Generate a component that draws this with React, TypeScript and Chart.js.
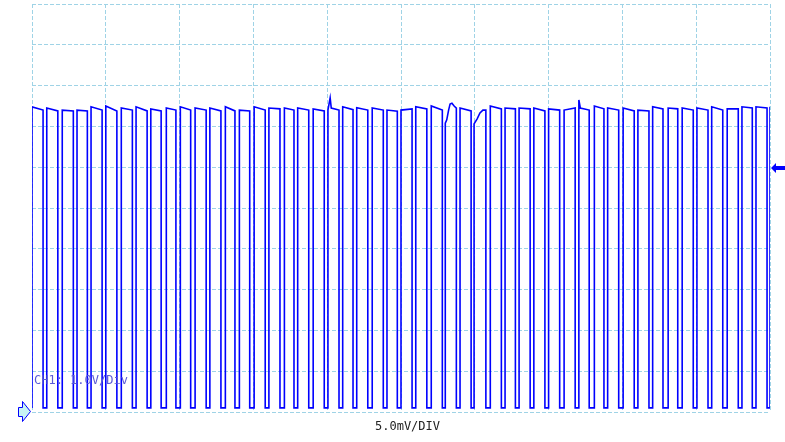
import React, { useEffect, useRef } from "react";
import { Chart, registerables } from "chart.js";

Chart.register(...registerables);

// Axis: 10 horizontal divisions x 10 vertical divisions
const X_MIN = 0;
const X_MAX = 10;
const Y_MIN = 0;
const Y_MAX = 10;

// Low level of the square wave (divisions)
const LOW_LEVEL = 0.1;

// Rising edge times of each pulse (divisions)
const RISES = [
  0.0, 0.2, 0.41, 0.61, 0.8, 1.0, 1.21, 1.41, 1.61, 1.82,
  2.01, 2.21, 2.41, 2.62, 2.81, 3.01, 3.21, 3.42, 3.6, 3.81,
  4.01, 4.21, 4.4, 4.61, 4.81, 5.0, 5.2, 5.41, 5.6, 5.8,
  5.99, 6.21, 6.41, 6.6, 6.8, 7.0, 7.21, 7.41, 7.62, 7.8,
  8.01, 8.21, 8.41, 8.62, 8.81, 9.01, 9.21, 9.42, 9.62, 9.81,
];

// Falling edge times of each pulse (divisions)
const FALLS = [
  0.15, 0.35, 0.56, 0.75, 0.95, 1.15, 1.36, 1.56, 1.75, 1.95,
  2.15, 2.36, 2.56, 2.75, 2.95, 3.16, 3.36, 3.55, 3.75, 3.96,
  4.16, 4.35, 4.55, 4.76, 4.95, 5.15, 5.35, 5.56, 5.75, 5.95,
  6.15, 6.36, 6.55, 6.75, 6.95, 7.15, 7.36, 7.55, 7.75, 7.95,
  8.16, 8.36, 8.55, 8.75, 8.96, 9.16, 9.36, 9.57, 9.76, 9.96,
];

// High level at the start of each pulse (divisions)
const TOP_START = [
  7.48, 7.45, 7.4, 7.4, 7.48, 7.5, 7.45, 7.48, 7.43, 7.45,
  7.48, 7.45, 7.45, 7.48, 7.4, 7.48, 7.45, 7.45, 7.45, 7.43,
  7.4, 7.48, 7.46, 7.45, 7.4, 7.4, 7.48, 7.5, 7.08, 7.45,
  7.06, 7.5, 7.45, 7.45, 7.45, 7.43, 7.4, 7.65, 7.5, 7.45,
  7.45, 7.4, 7.48, 7.45, 7.45, 7.45, 7.48, 7.43, 7.48, 7.48,
];

// High level at the end of each pulse (divisions)
const TOP_END = [
  7.4, 7.38, 7.38, 7.38, 7.4, 7.38, 7.4, 7.38, 7.38, 7.4,
  7.4, 7.4, 7.38, 7.38, 7.38, 7.4, 7.43, 7.4, 7.4, 7.38,
  7.4, 7.41, 7.4, 7.4, 7.37, 7.43, 7.43, 7.4, 7.45, 7.38,
  7.4, 7.43, 7.43, 7.43, 7.38, 7.4, 7.45, 7.4, 7.43, 7.4,
  7.38, 7.38, 7.43, 7.43, 7.4, 7.4, 7.4, 7.43, 7.45, 7.45,
];

// Final rising edge at the right border
const LAST_RISE = 10.0;
const LAST_LEVEL = 7.48;

// Glitches / overshoots on pulse tops
const GLITCH_X = [4.04, 4.055, 5.62, 5.645, 5.665, 5.69, 5.72, 6.03, 6.07, 6.11, 7.43];
const GLITCH_Y = [7.7, 7.45, 7.16, 7.4, 7.55, 7.57, 7.5, 7.18, 7.33, 7.4, 7.45];

const CH_LABEL = "CH1: 1.0V/Div";
const TB_LABEL = "5.0mV/DIV";

function buildTrace() {
  const pts: { x: number; y: number }[] = [];
  for (let k = 0; k < RISES.length; k++) {
    const r = RISES[k];
    const f = FALLS[k];
    pts.push({ x: r, y: LOW_LEVEL });
    pts.push({ x: r, y: TOP_START[k] });
    for (let g = 0; g < GLITCH_X.length; g++) {
      if (GLITCH_X[g] > r && GLITCH_X[g] < f) pts.push({ x: GLITCH_X[g], y: GLITCH_Y[g] });
    }
    pts.push({ x: f, y: TOP_END[k] });
    pts.push({ x: f, y: LOW_LEVEL });
  }
  pts.push({ x: LAST_RISE, y: LOW_LEVEL });
  pts.push({ x: LAST_RISE, y: LAST_LEVEL });
  return pts;
}

const overlayPlugin = {
  id: "scopeOverlay",
  afterDraw(chart: any) {
    const ctx = chart.ctx as CanvasRenderingContext2D;
    const area = chart.chartArea;
    ctx.save();
    ctx.font = '12px "DejaVu Sans Mono", monospace';
    ctx.textBaseline = "middle";
    ctx.textAlign = "left";
    ctx.fillStyle = "#5a5ad6";
    ctx.fillText(CH_LABEL, area.left + 2, 381);
    ctx.fillStyle = "#222222";
    ctx.fillText(TB_LABEL, 375, 427);

    // trigger level arrow on the right
    ctx.fillStyle = "#0000ff";
    ctx.beginPath();
    ctx.moveTo(771, 168);
    ctx.lineTo(776, 163);
    ctx.lineTo(776, 166);
    ctx.lineTo(785, 166);
    ctx.lineTo(785, 170);
    ctx.lineTo(776, 170);
    ctx.lineTo(776, 173);
    ctx.closePath();
    ctx.fill();

    // ground marker on the left
    ctx.beginPath();
    ctx.moveTo(18.5, 407.5);
    ctx.lineTo(22.5, 407.5);
    ctx.lineTo(22.5, 401.5);
    ctx.lineTo(30.5, 411.5);
    ctx.lineTo(22.5, 421.5);
    ctx.lineTo(22.5, 416.5);
    ctx.lineTo(18.5, 416.5);
    ctx.closePath();
    ctx.fillStyle = "#c8f4f4";
    ctx.fill();
    ctx.strokeStyle = "#0000ff";
    ctx.lineWidth = 1;
    ctx.stroke();
    ctx.restore();
  },
};

export default function App() {
  const ref = useRef<HTMLCanvasElement>(null);
  useEffect(() => {
    document.body.style.margin = "0";
    const gridColor = "#9fd3e6";
    const chart = new Chart(ref.current as HTMLCanvasElement, {
      type: "line",
      data: {
        datasets: [
          {
            data: buildTrace(),
            borderColor: "#0000ff",
            borderWidth: 1.6,
            pointRadius: 0,
            tension: 0,
            fill: false,
          },
        ],
      },
      options: {
        responsive: false,
        animation: false,
        events: [],
        layout: { padding: { left: 32, right: 15, top: 4, bottom: 30 } },
        plugins: { legend: { display: false }, tooltip: { enabled: false } },
        scales: {
          x: {
            type: "linear",
            min: X_MIN,
            max: X_MAX,
            ticks: { display: false, stepSize: 1 },
            grid: { color: gridColor, lineWidth: 1, drawTicks: false },
            border: { display: false, dash: [4, 2] },
          },
          y: {
            type: "linear",
            min: Y_MIN,
            max: Y_MAX,
            ticks: { display: false, stepSize: 1 },
            grid: { color: gridColor, lineWidth: 1, drawTicks: false },
            border: { display: false, dash: [4, 2] },
          },
        },
      },
      plugins: [overlayPlugin],
    } as any);
    return () => chart.destroy();
  }, []);
  return (
    <div style={{ width: 785, height: 442, background: "#ffffff" }}>
      <canvas ref={ref} width={785} height={442} style={{ display: "block" }} />
    </div>
  );
}
